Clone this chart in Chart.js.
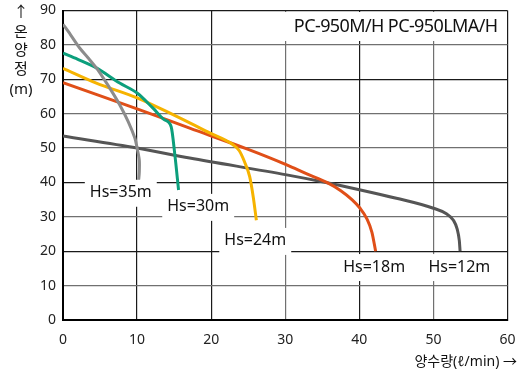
<!DOCTYPE html>
<html>
<head>
<meta charset="utf-8">
<script src="https://cdn.jsdelivr.net/npm/chart.js@4.4.1/dist/chart.umd.min.js"></script>
<style>
  html, body { margin: 0; padding: 0; background: #fff; }
  #wrap { width: 520px; height: 374px; }
</style>
</head>
<body>
<div id="wrap"><canvas id="chart"></canvas></div>
<script>
// curve data (flow l/min, head m)
const hs35Flow = [0, 1, 2.25, 3.4, 4.5, 5.4, 6.3, 7.65, 8.8, 9.7, 10, 10.3, 10.3, 10.2];
const hs35Head = [86, 83, 79.1, 76.2, 73.3, 70.5, 67.5, 62.6, 57.7, 52.9, 50, 46.5, 43, 40.5];

const hs30Flow = [0, 2, 4.5, 7.65, 10, 12.15, 13.7, 14.6, 15.1, 15.6];
const hs30Head = [77.6, 75.8, 73.3, 68.9, 66, 61.6, 58.2, 56.2, 48, 37.8];

const hs24Flow = [0, 4.5, 10, 14.85, 19.8, 23, 23.8, 24.5, 25.2, 25.7, 26.1];
const hs24Head = [73.2, 68.9, 64.6, 59.7, 54.4, 50.9, 49.2, 46, 41.7, 35.5, 29];

const hs18Flow = [0, 10, 17.1, 25, 30.2, 33, 35.6, 37.5, 39, 40.1, 41, 41.7, 42.2];
const hs18Head = [69, 61.4, 55.8, 49.6, 45.1, 42.4, 40, 37.6, 35, 32.5, 29.5, 25.5, 20];

const hs12Flow = [0, 10, 17.1, 30.2, 35, 40, 45, 50, 51.75, 52.7, 53.2, 53.5, 53.6];
const hs12Head = [53.5, 50, 47.1, 42.2, 40.2, 37.9, 35.4, 32.5, 30.9, 29, 26.5, 23, 20];

const seriesNames = ["Hs=35m", "Hs=30m", "Hs=24m", "Hs=18m", "Hs=12m"];
const seriesColors = ["#8c8c8c", "#0c9f7c", "#f6b300", "#e04f18", "#555555"];

// label anchors (data units)
const labelFlow = [7.8, 18.25, 25.95, 42.0, 53.5];
const labelHead = [37.0, 32.9, 23.0, 15.4, 15.4];

const xTicks = [0, 10, 20, 30, 40, 50, 60];
const yTicks = [0, 10, 20, 30, 40, 50, 60, 70, 80, 90];

const chartTitle = "PC-950M/H PC-950LMA/H";
const xTitle = "양수량(ℓ/min) →";
const yTitle = ["↑", "온", "양", "정", "(m)"];

const FONT = "'Noto Sans', 'Noto Sans CJK KR', sans-serif";

function toPoints(xs, ys) {
  return xs.map((x, i) => ({ x: x, y: ys[i] }));
}

const flows = [hs35Flow, hs30Flow, hs24Flow, hs18Flow, hs12Flow];
const heads = [hs35Head, hs30Head, hs24Head, hs18Head, hs12Head];

const datasets = seriesNames.map((name, i) => ({
  label: name,
  data: toPoints(flows[i], heads[i]),
  borderColor: seriesColors[i],
  borderWidth: 3,
  pointRadius: 0,
  // first curve turns back a little, so it keeps plain bezier tension
  cubicInterpolationMode: i === 0 ? "default" : "monotone",
  tension: 0.3,
  fill: false
}));

// darker / lighter grid lines like the scan
const darkY = [20, 40, 70, 90];
const darkX = [10, 20, 40, 60];

const decorPlugin = {
  id: "decor",
  afterDatasetsDraw(chart) {
    const ctx = chart.ctx;
    const xs = chart.scales.x;
    const ys = chart.scales.y;
    const area = chart.chartArea;
    ctx.save();

    // Hs labels with white boxes
    ctx.font = "16px " + FONT;
    ctx.textAlign = "center";
    ctx.textBaseline = "middle";
    seriesNames.forEach((name, i) => {
      const cx = xs.getPixelForValue(labelFlow[i]);
      const cy = ys.getPixelForValue(labelHead[i]);
      const w = ctx.measureText(name).width + 10;
      ctx.fillStyle = "#fff";
      ctx.fillRect(cx - w / 2, cy - 13, w, 27);
      ctx.fillStyle = "#111";
      ctx.fillText(name, cx, cy);
    });

    // title box top right
    ctx.font = "18px " + FONT;
    ctx.letterSpacing = "-0.6px";
    const tw = ctx.measureText(chartTitle).width;
    ctx.fillStyle = "#fff";
    ctx.fillRect(area.right - tw - 20, area.top + 1.5, tw + 19, 29);
    ctx.fillStyle = "#111";
    ctx.textAlign = "right";
    ctx.fillText(chartTitle, area.right - 10, area.top + 16);
    ctx.letterSpacing = "0px";

    // x axis title
    ctx.font = "14px " + FONT;
    ctx.textAlign = "right";
    ctx.fillText(xTitle, chart.width - 3, 362);

    // y axis title, stacked
    ctx.textAlign = "center";
    ctx.font = "15px " + FONT;
    const yPos = [13, 33, 51, 70, 90];
    yTitle.forEach((t, i) => ctx.fillText(t, 21, yPos[i]));

    ctx.restore();
  }
};

new Chart(document.getElementById("chart"), {
  type: "line",
  data: { datasets: datasets },
  options: {
    responsive: true,
    maintainAspectRatio: false,
    animation: false,
    layout: { padding: { top: 10.5, right: 12.5, left: 0, bottom: 0 } },
    plugins: {
      legend: { display: false },
      tooltip: { enabled: false },
      title: { display: false }
    },
    scales: {
      x: {
        type: "linear",
        min: 0,
        max: 60,
        afterBuildTicks: s => { s.ticks = xTicks.map(v => ({ value: v })); },
        afterFit: s => { s.height = 54; s.paddingLeft = 0; s.paddingRight = 0; },
        border: { color: "#000", width: 2 },
        grid: {
          drawTicks: false,
          lineWidth: 1.2,
          color: c => darkX.includes(c.tick.value) ? "#1a1a1a" : "#707070"
        },
        ticks: { padding: 12, color: "#222", font: { family: FONT, size: 14 } }
      },
      y: {
        min: 0,
        max: 90,
        afterBuildTicks: s => { s.ticks = yTicks.map(v => ({ value: v })); },
        afterFit: s => { s.width = 63; s.paddingTop = 0; s.paddingBottom = 0; },
        border: { color: "#000", width: 2 },
        grid: {
          drawTicks: false,
          lineWidth: 1.2,
          color: c => darkY.includes(c.tick.value) ? "#1a1a1a" : "#707070"
        },
        ticks: { padding: 7, color: "#222", font: { family: FONT, size: 14 } }
      }
    }
  },
  plugins: [decorPlugin]
});
</script>
</body>
</html>
